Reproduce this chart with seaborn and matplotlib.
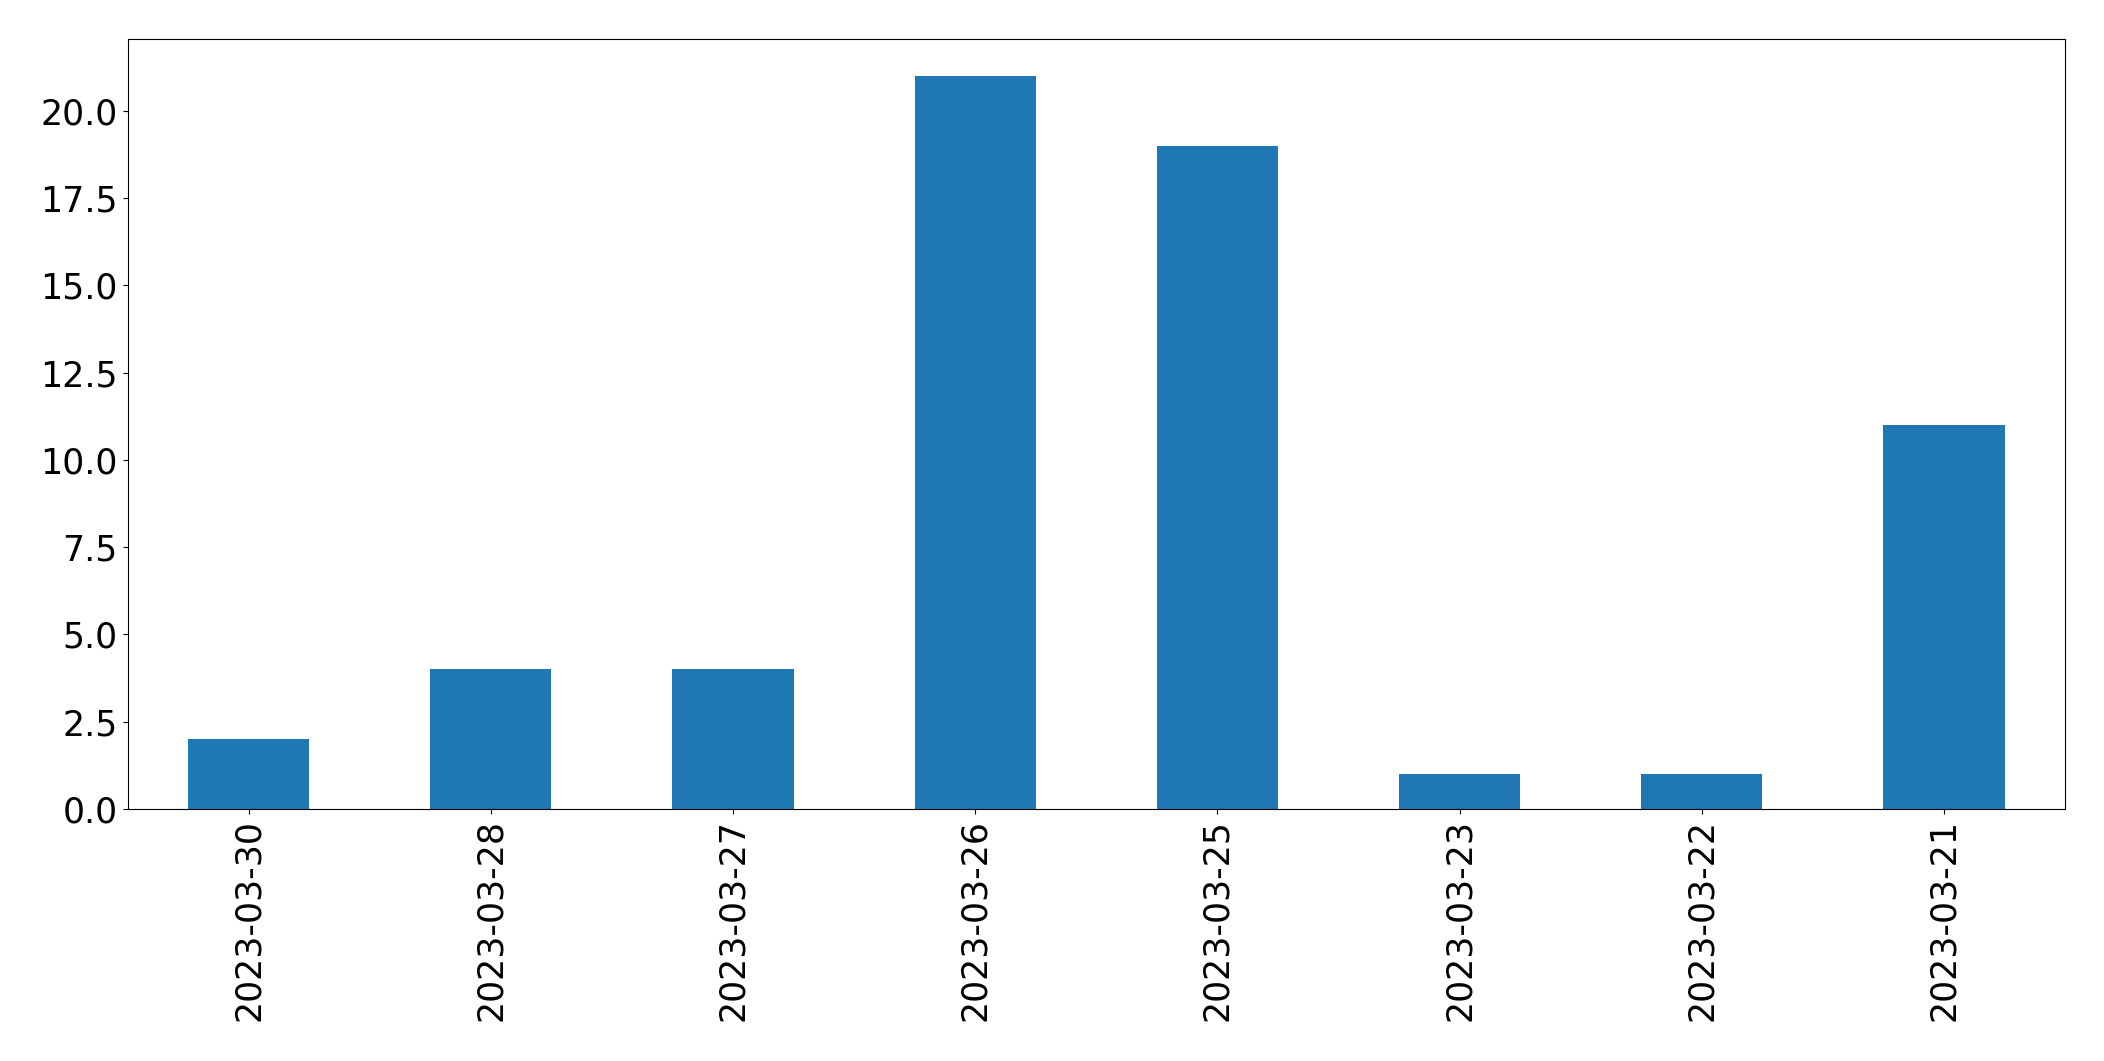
import matplotlib
matplotlib.use("Agg")
import matplotlib.pyplot as plt
import seaborn as sns
import pandas as pd

dates = ["2023-03-30", "2023-03-28", "2023-03-27", "2023-03-26",
         "2023-03-25", "2023-03-23", "2023-03-22", "2023-03-21"]
counts = [2, 4, 4, 21, 19, 1, 1, 11]

df = pd.DataFrame({"date": dates, "count": counts})

fig, ax = plt.subplots(figsize=(21.04, 10.61), dpi=100)
sns.barplot(data=df, x="date", y="count", color="#1f77b4",
            saturation=1, width=0.5, ax=ax)
ax.set_xlim(-0.5, len(dates) - 0.5)
ax.set_ylim(0, max(counts) * 1.05)
ax.set_yticks([0, 2.5, 5, 7.5, 10, 12.5, 15, 17.5, 20])
ax.set_yticklabels(["0.0", "2.5", "5.0", "7.5", "10.0", "12.5", "15.0", "17.5", "20.0"])
ax.set_xlabel("")
ax.set_ylabel("")
ax.tick_params(axis="both", labelsize=25)
ax.tick_params(axis="x", labelrotation=90)
fig.subplots_adjust(left=0.0606, right=0.9815, top=0.9632, bottom=0.2375)
fig.savefig("out.png", dpi=100)
plt.close(fig)
